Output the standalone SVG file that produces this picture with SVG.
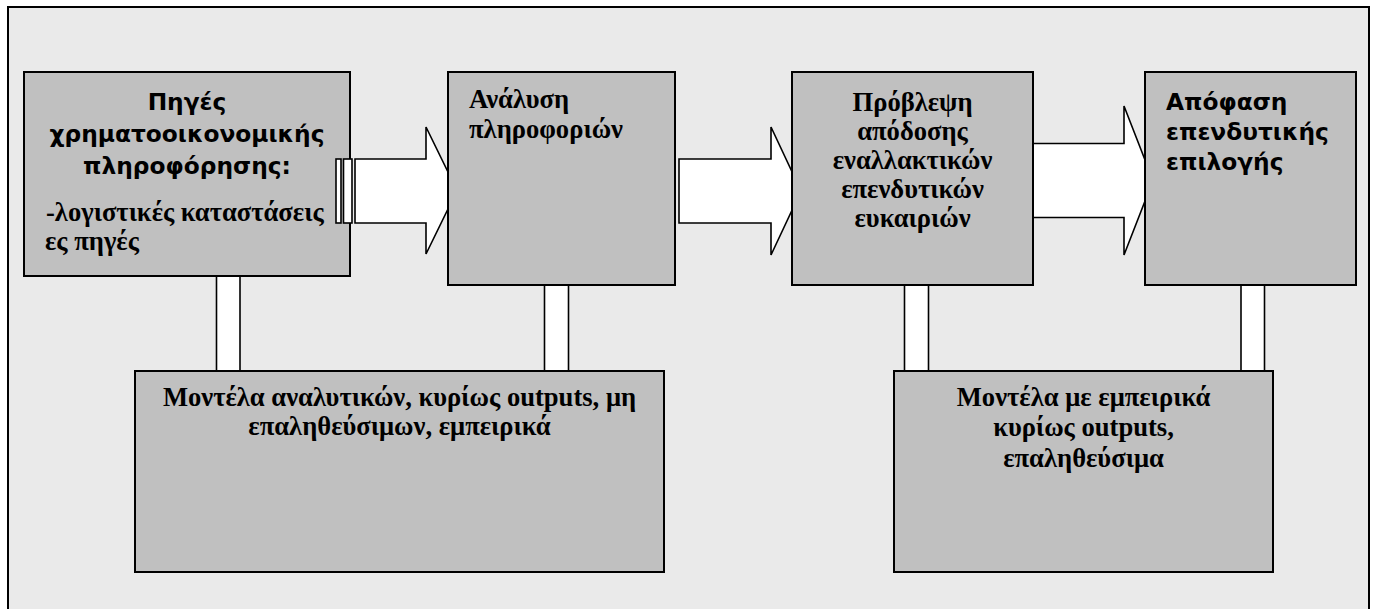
<svg xmlns="http://www.w3.org/2000/svg" width="1374" height="609" viewBox="0 0 1374 609">
<style>
.frame{fill:#eaeaea;stroke:#000;stroke-width:2}
.box{fill:#c0c0c0;stroke:#000;stroke-width:2}
.conn{fill:#fff;stroke:#000;stroke-width:1.6}
.sans{font-family:"DejaVu Sans","Verdana",sans-serif;font-weight:bold;font-size:23.3px;fill:#000}
.serif{font-family:"Liberation Serif","Times New Roman",serif;font-weight:bold;font-size:26.6px;fill:#000}
.mid{text-anchor:middle}
</style>
<rect x="0" y="0" width="1374" height="609" fill="#fff"/>
<rect class="frame" x="8" y="7" width="1361" height="640"/>

<g id="connectors">
  <polygon class="conn" points="355,159 426,159 426,127 457,190.5 426,254 426,223 355,223"/>
  <polygon class="conn" points="679,159 771,159 771,127 801,191 771,255 771,223 679,223"/>
  <polygon class="conn" points="1030,143.5 1124,143.5 1124,106 1153,180.5 1124,255 1124,217.5 1030,217.5"/>
  <rect class="conn" x="216.5" y="276" width="23.5" height="95"/>
  <rect class="conn" x="544.5" y="285" width="24" height="86"/>
  <rect class="conn" x="904.5" y="285" width="24" height="86"/>
  <rect class="conn" x="1241" y="285" width="23.5" height="86"/>
</g>

<g id="node-sources">
  <rect class="box" x="24" y="72" width="326" height="204"/>
  <text class="sans mid" x="187" y="110">Πηγές</text>
  <text class="sans mid" x="187" y="142">χρηματοοικονομικής</text>
  <text class="sans mid" x="187" y="174">πληροφόρησης:</text>
  <text class="serif" x="46" y="221">-λογιστικές καταστάσεις</text>
  <text class="serif" x="45" y="250">ες πηγές</text>
</g>

<g id="stripes">
  <rect class="conn" x="336" y="159" width="5" height="64"/>
  <rect class="conn" x="343.5" y="159" width="8.5" height="64"/>
</g>

<g id="node-analysis">
  <rect class="box" x="448" y="72" width="227" height="213"/>
  <text class="serif" x="469" y="108">Ανάλυση</text>
  <text class="serif" x="469" y="138">πληροφοριών</text>
</g>

<g id="node-forecast">
  <rect class="box" x="792" y="72" width="241" height="213"/>
  <text class="serif mid" x="912.5" y="111">Πρόβλεψη</text>
  <text class="serif mid" x="912.5" y="140">απόδοσης</text>
  <text class="serif mid" x="912.5" y="168.5">εναλλακτικών</text>
  <text class="serif mid" x="912.5" y="197.5">επενδυτικών</text>
  <text class="serif mid" x="912.5" y="226.5">ευκαιριών</text>
</g>

<g id="node-decision">
  <rect class="box" x="1145" y="72" width="211" height="213"/>
  <text class="sans" x="1166" y="110">Απόφαση</text>
  <text class="sans" x="1166" y="140">επενδυτικής</text>
  <text class="sans" x="1166" y="170">επιλογής</text>
</g>

<g id="node-models-analysts">
  <rect class="box" x="135" y="371" width="529" height="201"/>
  <text class="serif mid" x="399.5" y="406">Μοντέλα αναλυτικών, κυρίως outputs, μη</text>
  <text class="serif mid" x="399.5" y="435">επαληθεύσιμων, εμπειρικά</text>
</g>

<g id="node-models-empirical">
  <rect class="box" x="894" y="371" width="379" height="201"/>
  <text class="serif mid" x="1083.5" y="406">Μοντέλα με εμπειρικά</text>
  <text class="serif mid" x="1083.5" y="436">κυρίως outputs,</text>
  <text class="serif mid" x="1083.5" y="467">επαληθεύσιμα</text>
</g>
</svg>
